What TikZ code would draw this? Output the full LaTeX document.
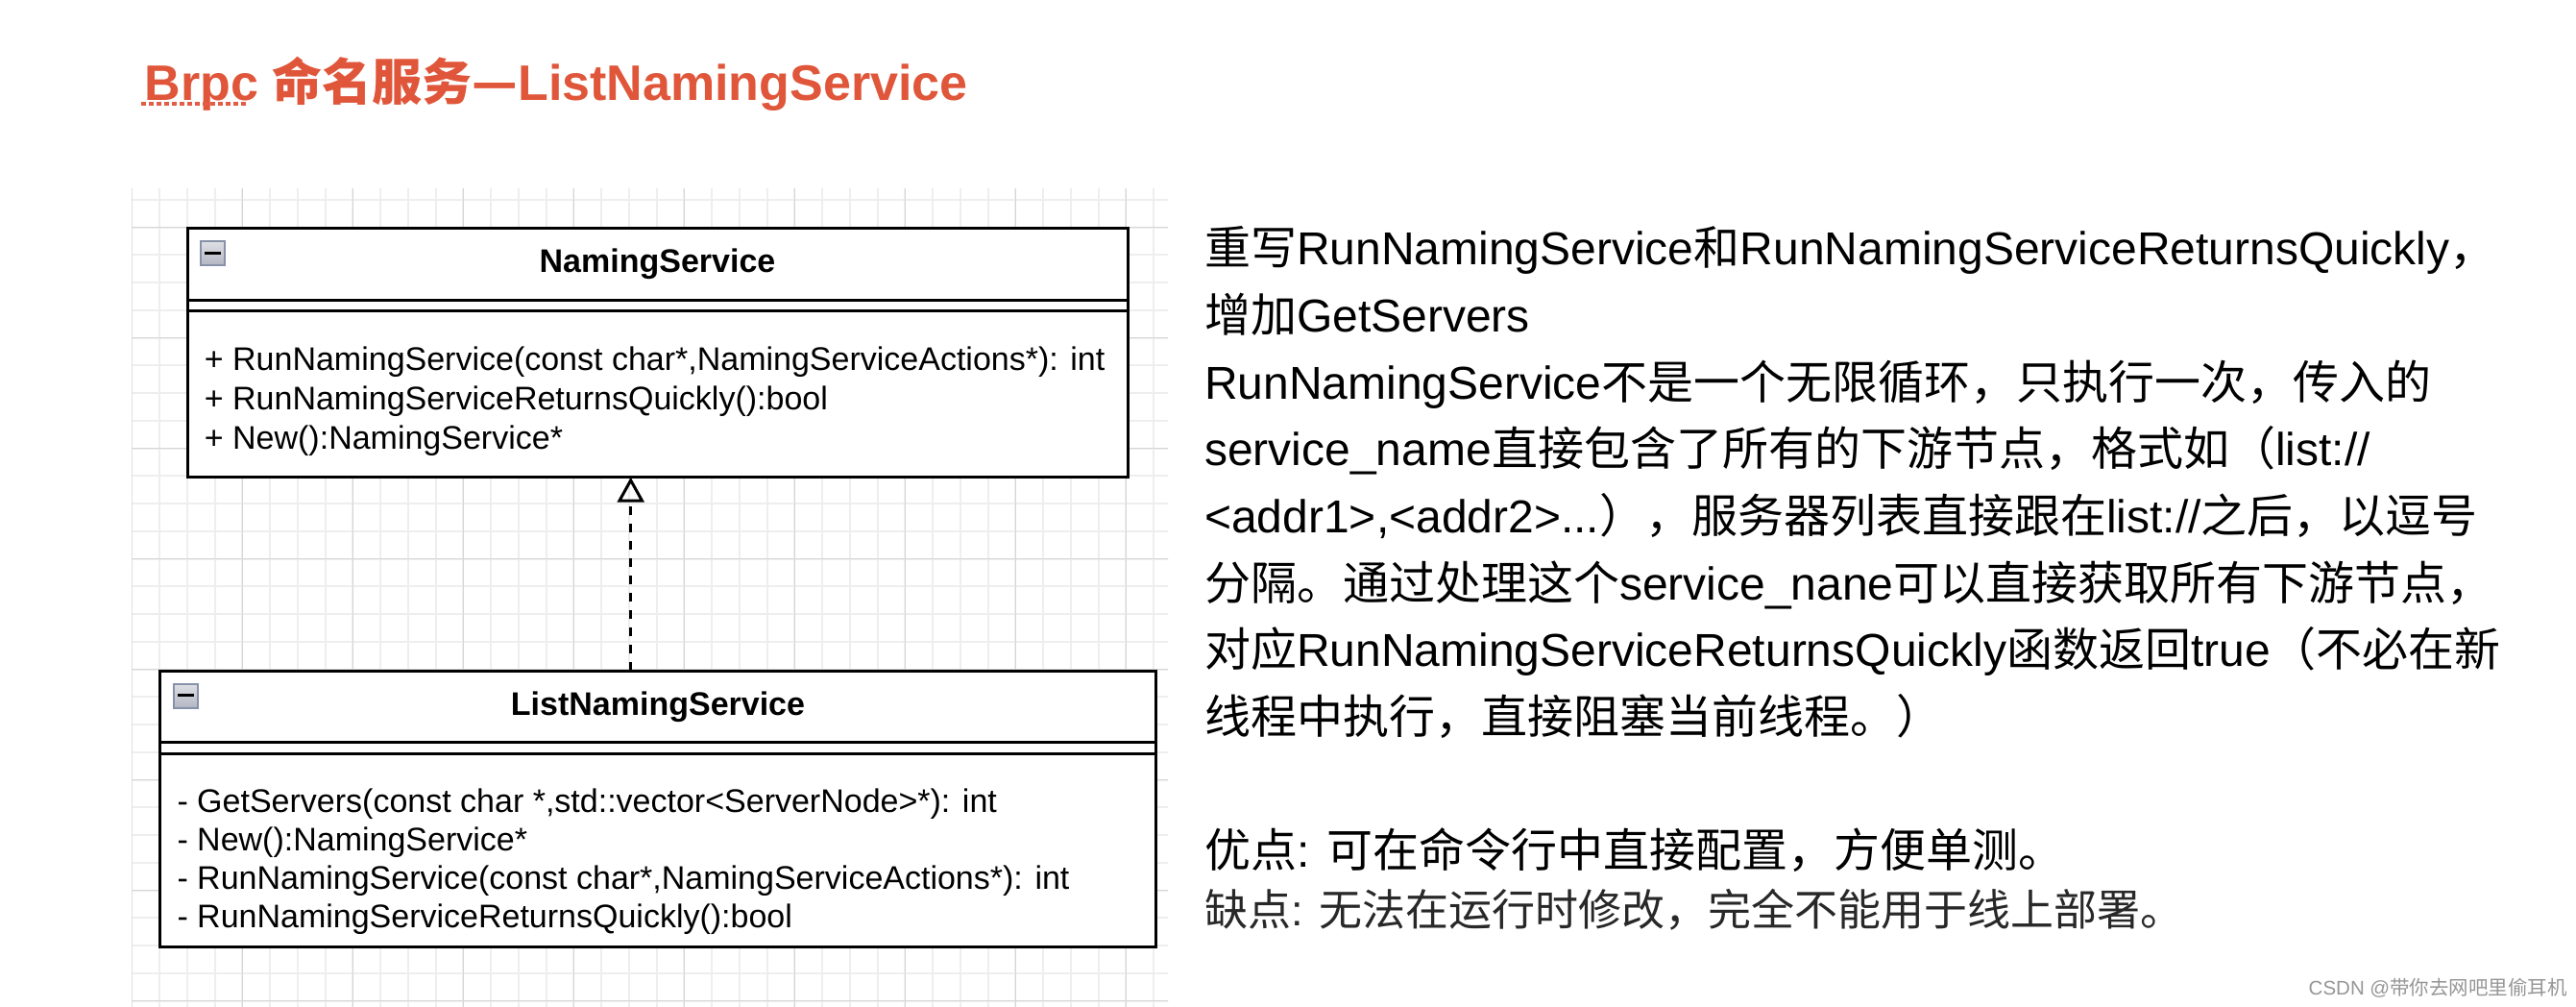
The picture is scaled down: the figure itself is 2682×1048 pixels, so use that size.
\documentclass[tikz,border=0pt]{standalone}
\usepackage{fontspec}
\setmainfont{Liberation Sans}
\newfontfamily\zh{Noto Sans CJK SC}
\usetikzlibrary{arrows.meta}
\definecolor{titlered}{RGB}{224,86,58}
\definecolor{spellred}{RGB}{226,92,70}
\definecolor{gridminor}{RGB}{238,238,238}
\definecolor{gridmajor}{RGB}{214,214,214}
\definecolor{iconedge}{RGB}{135,146,168}
\definecolor{icontop}{RGB}{246,246,248}
\definecolor{iconbottom}{RGB}{178,182,194}
\definecolor{consgray}{RGB}{40,40,40}
\definecolor{markgray}{RGB}{150,150,150}

\begin{document}
\begin{tikzpicture}[x=1pt,y=-1pt,>={Triangle[open,length=26pt,width=28pt]},
	umlbox/.style={draw,line width=3pt,fill=white,inner sep=0pt,outer sep=0pt,anchor=north west},
	classname/.style={font=\bfseries\fontsize{34}{41}\selectfont},
	member/.style={anchor=base west,inner sep=0pt,font=\fontsize{34}{41}\selectfont},
	note/.style={anchor=base west,inner sep=0pt,font=\fontsize{48}{58}\selectfont},
	realize/.style={->,line width=3pt,dash pattern=on 9pt off 9pt}]
\def\fold#1{
	\draw[iconedge,line width=2pt,top color=icontop,bottom color=iconbottom]
		(#1) ++(14,13.5) rectangle ++(25,25);
	\draw[line width=3pt] (#1) ++(18,25.5) -- ++(17,0);
}
\useasboundingbox (0,0) rectangle (2682,1048);
\fill[white] (0,0) rectangle (2682,1048);

\begin{scope}
\clip (137.3,196) rectangle (1216,1048);
\foreach \i in {0,...,37}{
	\draw[gridminor,line width=2pt] ({137.3+28.75*\i},196) -- ++(0,852);
}
\foreach \j in {-1,...,28}{
	\draw[gridminor,line width=2pt] (137.3,{236.7+28.75*\j}) -- ++(1080,0);
}
\foreach \i in {0,4,...,36}{
	\draw[gridmajor,line width=1.5pt] ({137.3+28.75*\i},196) -- ++(0,852);
}
\foreach \j in {0,4,...,28}{
	\draw[gridmajor,line width=1.5pt] (137.3,{236.7+28.75*\j}) -- ++(1080,0);
}
\end{scope}

\node[anchor=base west,inner sep=0pt,text=titlered,font=\bfseries\fontsize{52}{60}\selectfont]
	(title) at (150.7,104.3) {Brpc {\zh 命名服务—}ListNamingService};
\draw[spellred,line width=4pt,dash pattern=on 5pt off 3pt]
	(title.base west) ++(-4,4) -- ++(110,0);

\node[umlbox,classname,minimum width=979pt,minimum height=74.6pt]
	(nshead) at (195,237.7) {NamingService};
\node[umlbox,minimum width=979pt,minimum height=11pt]
	(nsgap) at (nshead.south west) {};
\node[umlbox,minimum width=979pt,minimum height=173.4pt]
	(nsbody) at (nsgap.south west) {};

\node[umlbox,classname,minimum width=1036.6pt,minimum height=74pt]
	(lnshead) at (166.7,698.3) {ListNamingService};
\node[umlbox,minimum width=1036.6pt,minimum height=12pt]
	(lnsgap) at (lnshead.south west) {};
\node[umlbox,minimum width=1036.6pt,minimum height=201.4pt]
	(lnsbody) at (lnsgap.south west) {};

\fold{nshead.north west}
\fold{lnshead.north west}

\foreach \t [count=\i] in {
	{+ RunNamingService(const char*,NamingServiceActions*): int},
	{+ RunNamingServiceReturnsQuickly():bool},
	{+ New():NamingService*}}{
	\node[member] (nsm\i) at (212.7,{385+41*(\i-1)}) {\t};
}
\foreach \t [count=\i] in {
	{- GetServers(const char *,std::vector<ServerNode>*): int},
	{- New():NamingService*},
	{- RunNamingService(const char*,NamingServiceActions*): int},
	{- RunNamingServiceReturnsQuickly():bool}}{
	\node[member] (lnsm\i) at (184.3,{845+40*(\i-1)}) {\t};
}

\coordinate (ax) at (656.7,0);
\draw[realize] (lnshead.north -| ax) -- (nsbody.south -| ax);

\node[note] (l1) at (1254,276)
	{{\zh 重写}RunNamingService{\zh 和}RunNamingServiceReturnsQuickly{\zh ，}};
\node[note] (l2) at (1254,345.6) {{\zh 增加}GetServers};
\node[note] (l3) at (1254,415.2)
	{RunNamingService{\zh 不是一个无限循环，只执行一次，传入的}};
\node[note] (l4) at (1254,484.8)
	{service\_name{\zh 直接包含了所有的下游节点，格式如（}list://};
\node[note] (l5) at (1254,554.4)
	{<addr1>,<addr2>...{\zh ），服务器列表直接跟在}list://{\zh 之后，以逗号}};
\node[note] (l6) at (1254,624)
	{{\zh 分隔。通过处理这个}service\_nane{\zh 可以直接获取所有下游节点，}};
\node[note] (l7) at (1254,693.6)
	{{\zh 对应}RunNamingServiceReturnsQuickly{\zh 函数返回}true{\zh （不必在新}};
\node[note] (l8) at (1254,763.2) {{\zh 线程中执行，直接阻塞当前线程。）}};

\node[note] (pros) at (1254,902) {{\zh 优点}: {\zh 可在命令行中直接配置，方便单测。}};
\node[note,text=consgray,font=\fontsize{45}{54}\selectfont] (cons) at (1254,963)
	{{\zh 缺点}: {\zh 无法在运行时修改，完全不能用于线上部署。}};

\node[anchor=base east,inner sep=0pt,text=markgray,font=\fontsize{20.5}{24}\selectfont]
	(mark) at (2673,1035) {CSDN @{\zh 带你去网吧里偷耳机}};

\end{tikzpicture}
\end{document}
